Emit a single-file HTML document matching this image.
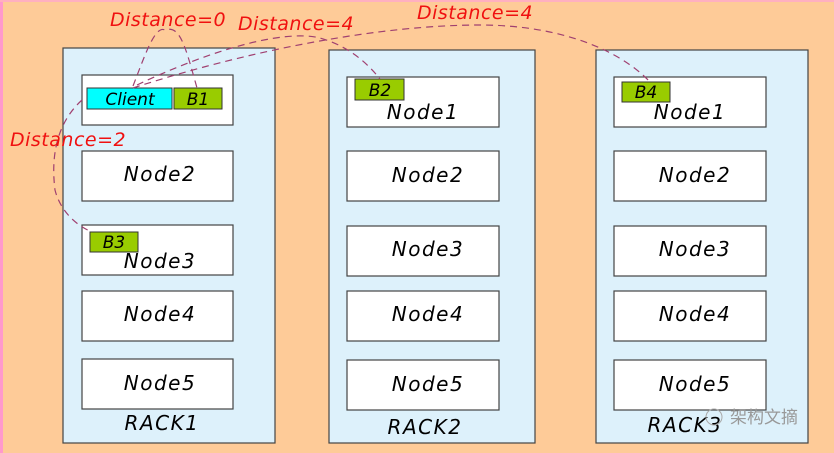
<!DOCTYPE html>
<html><head><meta charset="utf-8"><style>
html,body{margin:0;padding:0;background:#FECB98;}
svg{display:block}
text{font-family:"DejaVu Sans","Liberation Sans",sans-serif;}
.r{fill:#DDF1FB;stroke:#444;stroke-width:1.2}
.n{fill:#fff;stroke:#444;stroke-width:1.2}
.nt{font-size:20px;fill:#000;text-anchor:middle;font-style:italic;letter-spacing:1.5px}
.d{font-size:19px;fill:#f01010;font-style:italic;letter-spacing:0.5px}
.l{fill:none;stroke:#a04070;stroke-width:1.2;stroke-dasharray:7 5}
.g{fill:#99CC00;stroke:#333}
.gt{font-size:17px;text-anchor:middle;font-style:italic}
</style></head><body>
<svg width="834" height="453" viewBox="0 0 834 453" xmlns="http://www.w3.org/2000/svg">
<rect x="0" y="0" width="834" height="453" fill="#FECB98"/>
<rect x="0" y="0" width="3" height="453" fill="#FF99CC"/>
<rect x="0" y="0" width="834" height="2" fill="#FFB0C0"/>
<rect class="r" x="63" y="48" width="212" height="395"/>
<rect class="r" x="329" y="50" width="206" height="393"/>
<rect class="r" x="596" y="50" width="212" height="393"/>
<g>
<rect class="n" x="82" y="75" width="151" height="50"/>
<rect class="n" x="82" y="151" width="151" height="50"/><text class="nt" x="160" y="181">Node2</text>
<rect class="n" x="82" y="225" width="151" height="50"/><text class="nt" x="160" y="268">Node3</text>
<rect class="n" x="82" y="291" width="151" height="50"/><text class="nt" x="160" y="321">Node4</text>
<rect class="n" x="82" y="359" width="151" height="50"/><text class="nt" x="160" y="390">Node5</text>
<text class="nt" x="162" y="430">RACK1</text>
</g>
<g>
<rect class="n" x="347" y="77" width="152" height="50"/><text class="nt" x="423" y="119">Node1</text>
<rect class="n" x="347" y="151" width="152" height="50"/><text class="nt" x="428" y="182">Node2</text>
<rect class="n" x="347" y="226" width="152" height="50"/><text class="nt" x="428" y="256">Node3</text>
<rect class="n" x="347" y="291" width="152" height="50"/><text class="nt" x="428" y="321">Node4</text>
<rect class="n" x="347" y="360" width="152" height="50"/><text class="nt" x="428" y="391">Node5</text>
<text class="nt" x="425" y="434">RACK2</text>
</g>
<g>
<rect class="n" x="614" y="77" width="152" height="50"/><text class="nt" x="690" y="119">Node1</text>
<rect class="n" x="614" y="151" width="152" height="50"/><text class="nt" x="695" y="182">Node2</text>
<rect class="n" x="614" y="226" width="152" height="50"/><text class="nt" x="695" y="256">Node3</text>
<rect class="n" x="614" y="291" width="152" height="50"/><text class="nt" x="695" y="321">Node4</text>
<rect class="n" x="614" y="360" width="152" height="50"/><text class="nt" x="695" y="391">Node5</text>
<text class="nt" x="685" y="432">RACK3</text>
</g>
<rect x="87" y="88" width="85" height="21" fill="#00FFFF" stroke="#333"/>
<text x="130" y="105" class="gt" font-size="19">Client</text>
<rect class="g" x="174" y="88" width="48" height="21"/><text class="gt" x="198" y="105">B1</text>
<rect class="g" x="355" y="79" width="49" height="21"/><text class="gt" x="380" y="96">B2</text>
<rect class="g" x="622" y="82" width="48" height="20"/><text class="gt" x="646" y="98">B4</text>
<rect class="g" x="90" y="232" width="48" height="20"/><text class="gt" x="114" y="248">B3</text>
<path class="l" d="M133 86 C145 55 155 25 165 30 C180 25 185 45 197 88"/>
<path class="l" d="M137 85 C200 55 280 28 320 38 C345 45 365 60 380 79"/>
<path class="l" d="M133 88 C250 50 380 25 480 25 C560 25 620 50 650 82"/>
<path class="l" d="M82 100 C60 120 50 150 55 190 C60 210 75 225 92 232"/>
<text class="d" x="110" y="26">Distance=0</text>
<text class="d" x="238" y="30">Distance=4</text>
<text class="d" x="417" y="19">Distance=4</text>
<text class="d" x="10" y="146">Distance=2</text>
<text x="730" y="423" font-size="17" fill="#999" font-family="'Noto Sans CJK SC',sans-serif">架构文摘</text>
<circle cx="714" cy="417" r="8" fill="none" stroke="#aaa"/>
</svg>
</body></html>
